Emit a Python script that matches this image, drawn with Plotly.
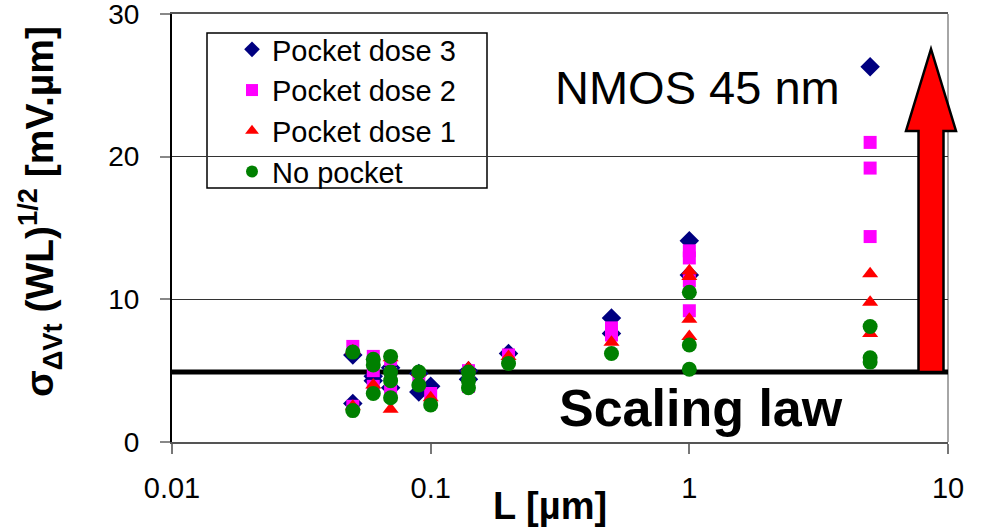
import plotly.graph_objects as go

# ---- data ----
L_dose3 = [0.05, 0.05, 0.06, 0.06, 0.07, 0.07, 0.09, 0.09, 0.1, 0.14, 0.14, 0.2, 0.5, 0.5, 1, 1, 5]
V_dose3 = [6.1, 2.7, 4.6, 4.3, 5.2, 3.8, 3.5, 4.8, 3.9, 4.4, 5.0, 6.2, 8.7, 7.6, 14.1, 11.7, 26.3]

L_dose2 = [0.05, 0.05, 0.06, 0.06, 0.06, 0.07, 0.07, 0.07, 0.09, 0.1, 0.14, 0.14, 0.2, 0.5, 0.5,
           1, 1, 1, 1, 5, 5, 5]
V_dose2 = [6.7, 2.5, 6.0, 5.0, 3.9, 5.8, 4.8, 3.6, 4.7, 3.4, 5.0, 3.9, 6.1, 8.0, 7.5,
           13.4, 12.9, 11.3, 9.2, 21.0, 19.2, 14.4]

L_dose1 = [0.05, 0.05, 0.06, 0.07, 0.07, 0.09, 0.1, 0.14, 0.2, 0.5, 1, 1, 1, 1, 5, 5, 5]
V_dose1 = [6.4, 2.5, 4.0, 2.3, 5.9, 4.9, 3.1, 5.2, 6.0, 7.0, 12.0, 11.6, 8.6, 7.4, 11.8, 9.8, 7.6]

L_none = [0.05, 0.05, 0.06, 0.06, 0.06, 0.07, 0.07, 0.07, 0.07, 0.09, 0.09, 0.1, 0.14, 0.14, 0.14,
          0.2, 0.5, 1, 1, 1, 5, 5, 5]
V_none = [6.3, 2.2, 5.8, 5.4, 3.4, 6.0, 4.9, 4.3, 3.1, 4.9, 4.0, 2.6, 4.9, 4.3, 3.8,
          5.5, 6.2, 10.5, 6.8, 5.1, 8.1, 5.9, 5.6]

scaling_L = [0.01, 10]
scaling_V = [4.9, 4.9]

y_ticks = [0, 10, 20, 30]
x_ticks = [0.01, 0.1, 1, 10]
x_ticklabels = ["0.01", "0.1", "1", "10"]

FONT = "Liberation Sans, Arial, sans-serif"

# plot-area pixel frame (used only to place decorations)
PL, PR, PT, PB = 172, 948, 14, 442
def px(x):
    return (x - PL) / (PR - PL)
def py(y):
    return (PB - y) / (PB - PT)

fig = go.Figure()

fig.add_trace(go.Scatter(x=scaling_L, y=scaling_V, mode="lines",
                         line=dict(color="black", width=5), showlegend=False, hoverinfo="skip"))

series = [
    ("Pocket dose 3", L_dose3, V_dose3, "diamond", "#000080", 15),
    ("Pocket dose 2", L_dose2, V_dose2, "square", "#FF00FF", 13),
    ("Pocket dose 1", L_dose1, V_dose1, "triangle-up", "#FF0000", 14),
    ("No pocket", L_none, V_none, "circle", "#008000", 15),
]
for i, (name, xs, ys, sym, col, sz) in enumerate(series):
    fig.add_trace(go.Scatter(x=xs, y=ys, mode="markers", name=name, legendgroup=f"g{i}",
                             marker=dict(symbol=sym, color=col, size=sz, line=dict(width=0))))

# legend frame (white box over grid)
fig.add_shape(type="rect", xref="paper", yref="paper",
              x0=px(207), x1=px(487), y0=py(188), y1=py(33),
              fillcolor="white", line=dict(color="black", width=1.5), layer="between")

# Arrow (decoration) in paper coords
cx = px(931)
sw = 12.5 / (PR - PL)
hw = 25 / (PR - PL)
y_base = py(372)
y_head = py(131)
y_tip = py(49)
path = (f"M {cx-sw},{y_base} L {cx-sw},{y_head} L {cx-hw},{y_head} L {cx},{y_tip} "
        f"L {cx+hw},{y_head} L {cx+sw},{y_head} L {cx+sw},{y_base} Z")
fig.add_shape(type="path", path=path, xref="paper", yref="paper",
              fillcolor="#FF0000", line=dict(color="black", width=2.5), layer="above")

# right border line
fig.add_shape(type="line", xref="paper", yref="paper", x0=1, x1=1, y0=0, y1=1,
              line=dict(color="#888888", width=1.5), layer="below")

fig.add_annotation(text="NMOS 45 nm", xref="paper", yref="paper",
                   x=px(697), y=py(88), xanchor="center", yanchor="middle", showarrow=False,
                   font=dict(family=FONT, size=47, color="black"))
fig.add_annotation(text="<b>Scaling law</b>", xref="paper", yref="paper",
                   x=px(701), y=py(408), xanchor="center", yanchor="middle", showarrow=False,
                   font=dict(family=FONT, size=52, color="black"))
fig.add_annotation(text="<b>L [µm]</b>", xref="paper", yref="paper",
                   x=px(550), y=py(506), xanchor="center", yanchor="middle", showarrow=False,
                   font=dict(family=FONT, size=38, color="black"))
fig.add_annotation(text="<b>σ<sub>ΔVt</sub> (WL)<sup>1/2</sup> [mV.µm]</b>", xref="paper", yref="paper",
                   x=px(40), y=py(212), xanchor="center", yanchor="middle", showarrow=False,
                   textangle=-90,
                   font=dict(family=FONT, size=39, color="black"))

fig.update_layout(
    width=983, height=527,
    margin=dict(l=PL, r=983 - PR, t=PT, b=527 - PB),
    paper_bgcolor="white", plot_bgcolor="white",
    font=dict(family=FONT, size=28, color="black"),
    xaxis=dict(type="log", range=[-2, 1], tickvals=x_ticks, ticktext=x_ticklabels,
               showgrid=False, showline=True, linecolor="#555555", linewidth=2, mirror=True,
               ticks="outside", ticklen=10, tickcolor="#777777", tickwidth=2,
               ticklabelstandoff=9, zeroline=False, automargin=False,
               ticklabeloverflow="allow",
               tickfont=dict(family=FONT, size=29)),
    yaxis=dict(range=[0, 30], tickvals=y_ticks, showgrid=True, gridcolor="#333333", gridwidth=1,
               showline=True, linecolor="black", linewidth=2,
               ticks="outside", ticklen=10, tickcolor="#888888", tickwidth=1.5,
               ticklabelstandoff=15, zeroline=False, automargin=False,
               ticklabeloverflow="allow",
               tickfont=dict(family=FONT, size=28)),
    legend=dict(x=px(207), y=py(24), xanchor="left", yanchor="top",
                borderwidth=0, bgcolor="rgba(0,0,0,0)",
                font=dict(family=FONT, size=29), tracegroupgap=0, indentation=25,
                itemsizing="constant"),
    showlegend=True,
)

fig.write_html("out.html")
